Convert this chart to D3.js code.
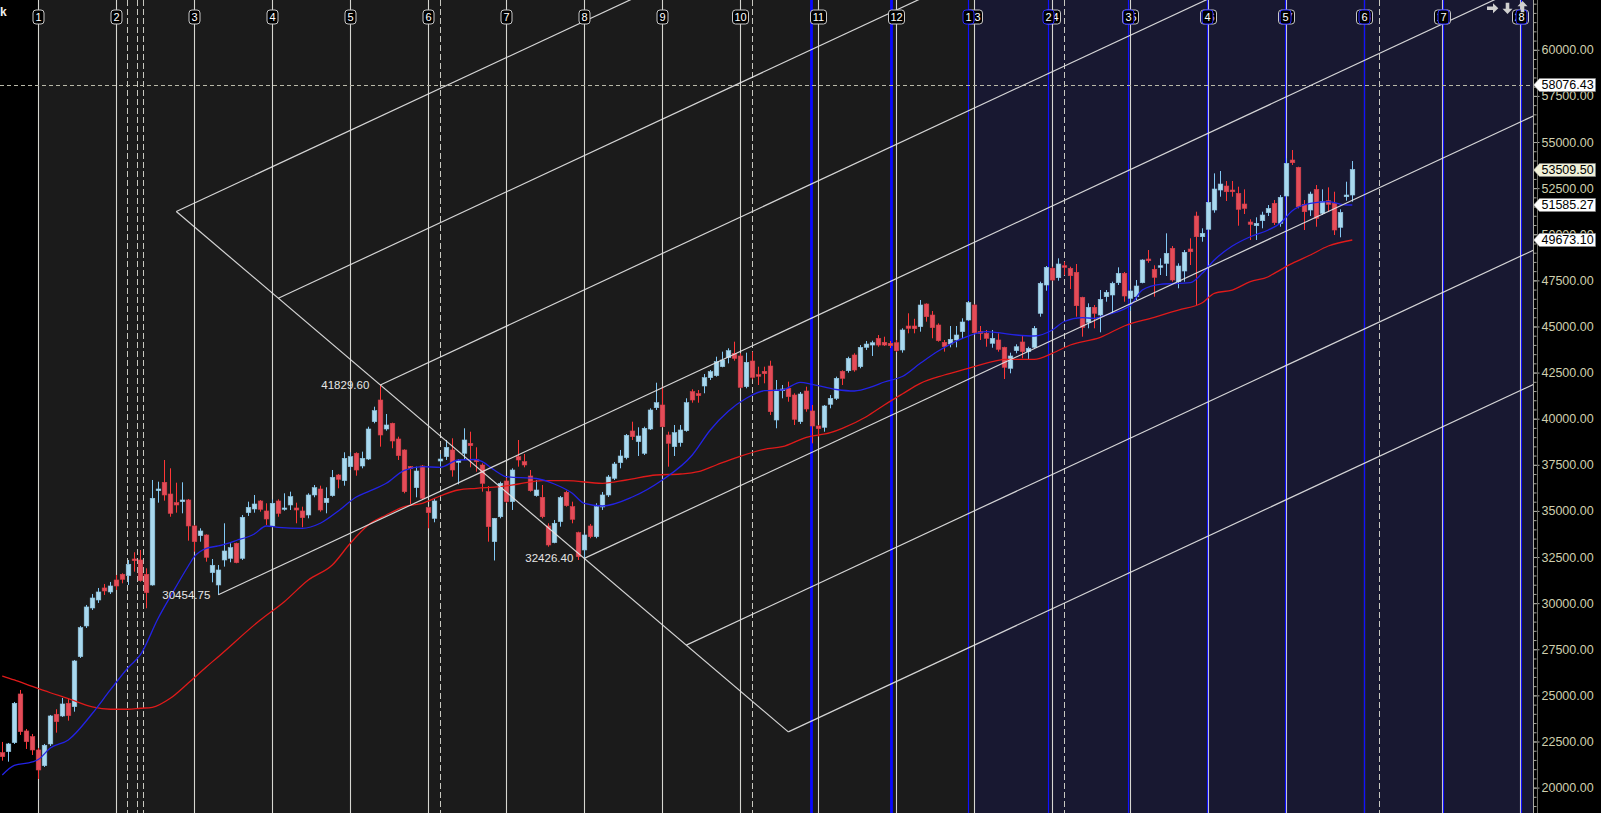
<!DOCTYPE html>
<html>
<head>
<meta charset="utf-8">
<script src="https://cdn.jsdelivr.net/npm/d3@7"></script>
<style>
  html, body { margin: 0; padding: 0; background: #000; overflow: hidden; }
</style>
</head>
<body>
<div id="chart"></div>
<script>
// daily candles
var opens = [21894,21948,22437,25076,23071,22763,22040,21189,22366,23976,23884,24572,24388,27100,28763,29738,30172,30823,30606,31256,
  31565,31489,32394,32340,31565,30985,36097,36552,35918,35447,35501,35593,34184,33658,33696,31652,30985,32340,32432,33246,
  32432,34905,35105,35539,34997,34184,35539,35089,35322,35159,34997,34780,35864,36189,35447,35826,36948,36639,37398,38125,
  37436,37815,39838,41014,39442,39751,38900,38304,37399,36260,37436,35175,34600,37707,37940,38304,37636,38125,38667,37799,
  37490,36043,33333,34686,36623,35501,37940,37669,36894,35826,35739,34184,33279,34418,36010,35230,33821,32883,34184,33604,
  35214,35864,36770,37615,37886,39334,38755,38125,39442,40596,40743,39117,38484,38700,39350,41464,41356,41773,42223,42332,
  42820,43311,43546,43400,41735,43128,42386,42570,42857,39930,41518,41648,41285,39838,41502,40418,39605,39534,40781,41106,
  42570,42602,43454,42820,43869,43994,44358,44142,44088,44120,43725,45026,45026,44990,46218,45621,45080,44142,44050,44267,
  44718,45351,46164,44718,44629,44088,44267,43869,42733,43687,44159,43634,43869,45714,47248,48153,47644,48294,48153,47937,
  46581,45226,46040,45621,46614,46706,47373,47882,46527,46614,47373,48657,48099,48207,48424,49236,47427,48007,49200,50989,
  49867,50267,51314,52398,52615,52398,52217,51639,50664,50463,50734,51168,51677,50593,52073,54024,53628,51623,51314,52434,
  51135,51818,51677,50376,52035,52127];
var highs = [22475,22420,24643,25293,23179,22908,22149,22366,23938,24247,24859,24843,26919,28763,29901,30497,30823,31040,31148,31527,
  31619,32340,32758,32883,31890,36677,36585,37761,37311,36531,36552,35647,34238,34059,33734,32394,32069,34330,33246,33279,
  34780,35501,35864,35593,35414,35631,35631,35956,36043,35447,35230,35956,36406,36368,36281,37219,37003,38179,38179,38179,
  38213,39566,40651,41830,40255,39786,39025,38342,37436,37399,37490,35230,35685,38087,38846,38938,37815,39480,39295,38450,
  37582,36352,34617,36585,36786,37311,38846,38087,37219,36677,36406,34330,34509,35810,36097,35501,33875,33788,34293,35414,
  36027,36948,37653,38304,39171,39838,39534,39566,40564,41952,41735,39295,39659,39659,41106,41594,41556,42424,42640,43362,
  43634,43817,44176,43546,43579,43634,42820,42820,43144,42098,41827,42007,41378,41448,41735,40743,39659,40743,41285,42278,
  42624,43362,43546,43994,44213,44229,44538,44446,44213,44267,44901,45714,45417,46435,46255,45839,45170,44267,45026,45026,
  45444,46381,46202,45026,44809,44809,44629,43902,43579,44033,44484,43902,45026,47428,48278,48240,48695,48511,48240,48387,
  46614,46255,46164,46977,46977,47428,48207,47953,47031,47519,48641,49145,48316,48695,50050,49362,48424,49145,49780,51222,
  50322,51763,53302,53428,52886,52886,52578,52434,50810,50918,51222,51585,51856,52127,54116,54566,53661,51856,52306,52669,
  52434,52543,52306,51352,52848,53970];
var lows = [21460,21406,22366,22854,22095,21769,20468,21119,22257,22979,23830,23629,24116,27028,28654,29630,30010,30443,30497,30714,
  31077,30985,31706,31164,29722,30947,35447,35555,34686,34905,34870,33387,32791,33333,32248,31131,30455,31979,32216,32161,
  32340,34726,34905,34959,34238,34113,34686,35013,35051,34330,34113,34600,35739,34959,34870,35772,36227,36368,37219,36910,
  37311,37761,39751,38484,39350,38396,37761,35956,35376,35739,35593,34059,34384,37399,37761,36857,36444,37761,37365,37127,
  36043,33333,32313,34600,35431,35051,37399,37365,36043,35772,34600,33062,33246,34146,35230,34330,32340,32426,33517,33517,
  35051,35756,36677,37311,37799,38846,37978,38032,39388,40472,39534,37399,37978,38484,39295,40868,40868,41378,42098,42278,
  42787,42998,43144,41648,41648,42137,41827,41919,40201,39480,41106,40922,39659,39713,40380,38667,39025,39295,40564,41014,
  41827,42495,42548,42733,43725,43400,43902,43940,43833,43617,43579,44629,44629,44718,45259,44358,44176,43634,43869,43869,
  44358,45313,44629,44267,43902,43848,43634,42152,42461,43546,43275,43220,43817,45530,46938,47481,47481,47790,47031,45530,
  44446,44901,44901,44684,46343,45714,47248,46343,45839,46435,47340,48456,46614,47790,47736,47427,47069,47427,48332,46164,
  49595,50230,51168,52035,51802,52035,50463,51097,49688,49688,50322,50989,50501,50409,52035,53753,51403,50230,50989,50409,
  51043,51222,49958,49834,51818,51764];
var closes = [21677,22366,24572,23033,22491,22040,20956,22295,23884,23575,24534,23900,26865,28671,29793,30280,30606,30660,30931,30931,
  31294,32107,32302,31218,30568,35685,36189,35864,34870,35322,35593,34184,33333,33913,32487,32053,31798,32828,33007,32194,
  34655,35197,35376,35089,34563,35414,34870,35159,35772,35051,34634,35864,36260,35051,35685,36824,36715,37853,37940,37219,
  37853,39442,40434,39117,39659,38791,37995,36043,37290,37165,35685,34905,35539,37815,38450,37219,37723,38846,38537,37669,
  36498,34146,34600,36498,35501,37219,37761,37490,36097,36135,34686,33154,34330,35718,35284,34547,32520,33696,33604,35230,
  35864,36840,37544,37978,39101,39025,39063,39480,40472,40868,39566,38667,39241,39388,40868,41014,41247,42223,42549,43091,
  43182,43687,43275,41703,43058,42244,42300,42440,40380,41556,41610,41193,39968,41339,40526,39605,39458,40689,41106,42190,
  42190,43273,42640,43869,44048,44119,43994,43994,43958,43687,44809,44901,44880,46164,45530,44934,44229,43907,44305,44538,
  45243,46289,44662,44629,44358,44358,43763,42787,43400,43902,43634,43817,44901,47340,48207,47519,48387,48207,47752,46126,
  44955,46040,45714,46473,46852,47340,47882,46652,46923,47194,48603,48565,47665,48294,48966,47519,48278,49020,49053,49867,
  50051,51731,52452,52723,52306,52306,51349,51403,50539,50593,51043,51403,50626,52002,53845,53878,51493,51222,52181,50864,
  51764,51623,50230,51189,52127,53510];

// moving averages (bar index, value)
var maBlueIdx = [0,2,5,6,8,11,15,18,21,23,26,28,31,32,34,36,39,42,44,46,50,53,56,59,61,64,67,70,73,76,79,80,82,84,89,92,95,97,100,105,
  110,115,118,121,124,127,130,133,135,139,142,145,147,150,153,156,161,164,166,169,172,175,177,180,182,184,188,190,193,198,200,202,205,208,211,213,215,218,221,224,225];
var maBlueVal = [20685,21200,21390,21525,22148,22583,24019,25293,26512,27190,29197,30351,32015,32519,32974,33099,33397,33750,34184,34113,
  34059,34330,34996,35755,36043,36498,37203,37398,37365,37761,37788,37669,37219,36856,36759,36460,35956,35403,35268,35755,
  36677,38032,39388,40401,41106,41518,41556,41973,41865,41583,41502,41735,41990,42288,43003,43670,44483,44717,44662,44538,
  44484,44809,45270,45475,45443,45622,46137,46977,47285,47373,47882,48603,49362,49866,50230,50593,51276,51677,51764,51585,51585];
var maRedIdx = [0,2,5,8,11,15,18,21,23,25,28,31,34,36,43,47,51,55,58,61,64,67,70,73,76,79,83,86,90,94,
  100,104,109,113,116,119,122,127,130,134,138,140,144,147,150,153,157,161,165,167,172,175,178,183,187,192,196,200,202,205,208,211,212,215,218,221,225];
var maRedVal = [26052,25835,25482,25142,24827,24371,24247,24247,24301,24355,24843,25672,26540,27098,29088,30080,31256,32069,33246,34238,
  34780,35230,35414,35810,36135,36226,36314,36460,36640,36640,36498,36677,36948,37002,37127,37490,37853,38341,38483,38993,
  39242,39480,40109,40743,41339,41918,42369,42733,43090,43220,43220,43545,43995,44410,45026,45497,45893,46289,46798,46977,
  47427,47698,47882,48420,48874,49362,49688];

// time cycle lines (bar index)
var whiteCycleIdx = [6,19,32,45,58,71,84,97,110,123,136,149,162,175,188,201,214,227,240,253];
var blueCycleIdx = [160.9,174.3,187.6,200.8,213.8,226.9,240.1,253.1];
var thickBlueIdx = [134.8,148.1];
var dashedIdx = [20.7,22.5,23.5,72.9,125,177,229.4];
var zoneSplitIdx = [6,162];

// pitchfork pivots
var pfIdx = [36,63,97];
var pfVal = [30454.75,41829.60,32426.40];
var pfText = ["30454.75","41829.60","32426.40"];
var pfSteps = [-3,-2,-1,1,2,3];

var crossVal = 58076.43;
var tagVals = [58076.43,53509.50,51585.27,49673.10];
var tagFill = ["#ffffff","#f0f0d8","#ffffff","#ffffff"];
var majorTicks = [20000,22500,25000,27500,30000,32500,35000,37500,40000,42500,45000,47500,50000,52500,55000,57500,60000];

var W = 1601, H = 813, axisX = 1533;

var svg = d3.select("#chart").append("svg")
  .attr("width", W).attr("height", H)
  .style("display", "block")
  .style("font-family", "'Liberation Sans', Arial, sans-serif");

var x = d3.scaleLinear().domain([0, 225]).range([2.3, 1352.3]);
var y = d3.scaleLinear().domain([20000, 60000]).range([787.6, 49.8]);

svg.append("rect").attr("width", W).attr("height", H).attr("fill", "#000");
svg.append("rect").attr("x", x(zoneSplitIdx[0])).attr("width", x(zoneSplitIdx[1]) - x(zoneSplitIdx[0]))
  .attr("height", H).attr("fill", "#1b1b1b");
svg.append("rect").attr("x", x(zoneSplitIdx[1])).attr("width", axisX - x(zoneSplitIdx[1]))
  .attr("height", H).attr("fill", "#181831");

svg.append("clipPath").attr("id", "plotclip")
  .append("rect").attr("width", axisX).attr("height", H);
var plot = svg.append("g").attr("clip-path", "url(#plotclip)");

function px(i) { return Math.round(x(i)) + 0.5; }

// vertical lines
plot.selectAll(".wl").data(whiteCycleIdx).enter().append("line")
  .attr("x1", px).attr("x2", px).attr("y1", 0).attr("y2", H)
  .attr("stroke", "#d6d6d0").attr("stroke-width", 1.1);
plot.selectAll(".dl").data(dashedIdx).enter().append("line")
  .attr("x1", px).attr("x2", px).attr("y1", 0).attr("y2", H)
  .attr("stroke", "#c8c8c0").attr("stroke-width", 1).attr("stroke-dasharray", "6,3");
plot.selectAll(".bl").data(blueCycleIdx).enter().append("line")
  .attr("x1", px).attr("x2", px).attr("y1", 0).attr("y2", H)
  .attr("stroke", "#1010ff").attr("stroke-width", 1.2);
plot.selectAll(".tb").data(thickBlueIdx).enter().append("line")
  .attr("x1", px).attr("x2", px).attr("y1", 0).attr("y2", H)
  .attr("stroke", "#0a0aff").attr("stroke-width", 2.8);

// horizontal crosshair
plot.append("line").attr("x1", 0).attr("x2", axisX)
  .attr("y1", Math.round(y(crossVal)) + 0.5).attr("y2", Math.round(y(crossVal)) + 0.5)
  .attr("stroke", "#b8b8a8").attr("stroke-width", 1).attr("stroke-dasharray", "4,3");

// candles
var bars = d3.range(opens.length);
function isUp(i) { return closes[i] >= opens[i]; }
var cg = plot.append("g");
cg.selectAll("line").data(bars).enter().append("line")
  .attr("x1", px).attr("x2", px)
  .attr("y1", function(i) { return y(highs[i]); })
  .attr("y2", function(i) { return y(lows[i]); })
  .attr("stroke", function(i) { return isUp(i) ? "#82c8f4" : "#ff3636"; })
  .attr("stroke-width", 1);
cg.selectAll("rect").data(bars).enter().append("rect")
  .attr("x", function(i) { return Math.round(x(i)) - 1.8; })
  .attr("width", 4.6)
  .attr("y", function(i) { return y(Math.max(opens[i], closes[i])); })
  .attr("height", function(i) { return Math.max(1.2, Math.abs(y(opens[i]) - y(closes[i]))); })
  .attr("fill", function(i) { return isUp(i) ? "#a9d9ef" : "#e44c58"; })
  .attr("stroke", function(i) { return isUp(i) ? "#8fc6e2" : "#d8404c"; })
  .attr("stroke-width", 0.6);

// moving averages
var maLine = d3.line()
  .x(function(d) { return x(d[0]); })
  .y(function(d) { return y(d[1]); })
  .curve(d3.curveMonotoneX);
plot.append("path").datum(d3.zip(maRedIdx, maRedVal)).attr("d", maLine)
  .attr("fill", "none").attr("stroke", "#e01a1a").attr("stroke-width", 1.3);
plot.append("path").datum(d3.zip(maBlueIdx, maBlueVal)).attr("d", maLine)
  .attr("fill", "none").attr("stroke", "#2323e6").attr("stroke-width", 1.3);

// pitchfork
var A = [x(pfIdx[0]), y(pfVal[0])], B = [x(pfIdx[1]), y(pfVal[1])], C = [x(pfIdx[2]), y(pfVal[2])];
var M = [(B[0] + C[0]) / 2, (B[1] + C[1]) / 2];
var half = [(C[0] - B[0]) / 2, (C[1] - B[1]) / 2];
var dx = M[0] - A[0], dy = M[1] - A[1];
function ext(p) { var t = (1700 - p[0]) / dx; return [p[0] + dx * t, p[1] + dy * t]; }
function step(j) { return [M[0] + half[0] * j, M[1] + half[1] * j]; }
var pfLines = [[A, ext(A)], [step(-3), step(3)]];
pfSteps.forEach(function(j) { var p = step(j); pfLines.push([p, ext(p)]); });
plot.selectAll(".pf").data(pfLines).enter().append("line")
  .attr("x1", function(d) { return d[0][0]; }).attr("y1", function(d) { return d[0][1]; })
  .attr("x2", function(d) { return d[1][0]; }).attr("y2", function(d) { return d[1][1]; })
  .attr("stroke", "#e4e4e4").attr("stroke-opacity", 0.92).attr("stroke-width", 1.2);

var pfPts = [A, B, C];
plot.selectAll(".pft").data(pfText).enter().append("text")
  .attr("x", function(d, i) { return pfPts[i][0] - (i === 0 ? 8 : 11); })
  .attr("y", function(d, i) { return pfPts[i][1] + 4; })
  .attr("text-anchor", "end")
  .attr("font-size", 11.5)
  .attr("fill", "#e6e6e6")
  .text(function(d) { return d; });

// right axis
var axis = d3.axisRight(y).tickValues(majorTicks).tickSize(6).tickSizeOuter(0).tickPadding(2)
  .tickFormat(d3.format(".2f"));
var minorAxis = d3.axisRight(y).tickValues(d3.range(19000, 62600, 500)).tickSize(3).tickSizeOuter(0)
  .tickFormat("");
var gm = svg.append("g").attr("transform", "translate(" + (axisX + 0.5) + ",0)").call(minorAxis);
var ga = svg.append("g").attr("transform", "translate(" + (axisX + 0.5) + ",0)").call(axis);
[gm, ga].forEach(function(g) {
  g.select(".domain").remove();
  g.selectAll(".tick line").attr("stroke", "#a8a8a0");
});
ga.selectAll(".tick text").attr("fill", "#cfcfae").attr("font-size", 12.5)
  .attr("font-family", "'Liberation Sans', Arial, sans-serif");
svg.append("line").attr("x1", axisX + 0.5).attr("x2", axisX + 0.5).attr("y1", 0).attr("y2", H)
  .attr("stroke", "#a8a8a0");
svg.append("line").attr("x1", axisX + 4.5).attr("x2", axisX + 4.5).attr("y1", 0).attr("y2", H)
  .attr("stroke", "#6e6e68");

// price tags
var tags = svg.selectAll(".tag").data(tagVals).enter().append("g")
  .attr("transform", function(d) { return "translate(" + (axisX + 0.5) + "," + Math.round(y(d)) + ")"; });
tags.append("path").attr("d", "M0,0L6,-6.5H62V6.5H6Z")
  .attr("fill", function(d, i) { return tagFill[i]; })
  .attr("stroke", "#888").attr("stroke-width", 0.6);
tags.append("text").attr("x", 8).attr("dy", "0.35em")
  .attr("font-size", 12.5).attr("fill", "#000")
  .text(function(d) { return d3.format(".2f")(d); });

// cycle labels on top (blue set sits over the white set, as in the source chart)
function cycleLabels(idx, stroke) {
  var g = svg.selectAll(null).data(idx).enter().append("g")
    .attr("transform", function(d) { return "translate(" + px(d) + ",0)"; });
  g.append("rect")
    .attr("x", function(d, i) { return String(i + 1).length > 1 ? -8 : -5.5; })
    .attr("width", function(d, i) { return String(i + 1).length > 1 ? 16 : 11; })
    .attr("y", 10).attr("height", 14).attr("rx", 3)
    .attr("fill", "#000").attr("stroke", stroke).attr("stroke-width", 1);
  g.append("text").attr("y", 21).attr("text-anchor", "middle")
    .attr("font-size", 11).attr("fill", "#fff")
    .text(function(d, i) { return i + 1; });
}
cycleLabels(whiteCycleIdx, "#c8c8c8");
cycleLabels(blueCycleIdx, "#2a2aff");

// corner marks
svg.append("text").attr("x", 0).attr("y", 16).attr("font-size", 12).attr("font-weight", "bold")
  .attr("fill", "#f0f0f0").text("k");
var arrow = "M-5.5,-1.8H0.5V-5L5.8,0L0.5,5V1.8H-5.5Z";
[[1492.5, 8.3, 0], [1507.5, 8.3, 90], [1522.5, 6.7, -90]].forEach(function(a) {
  svg.append("path").attr("d", arrow)
    .attr("transform", "translate(" + a[0] + "," + a[1] + ") rotate(" + a[2] + ")")
    .attr("fill", "#d0d0d0");
});
</script>
</body>
</html>
